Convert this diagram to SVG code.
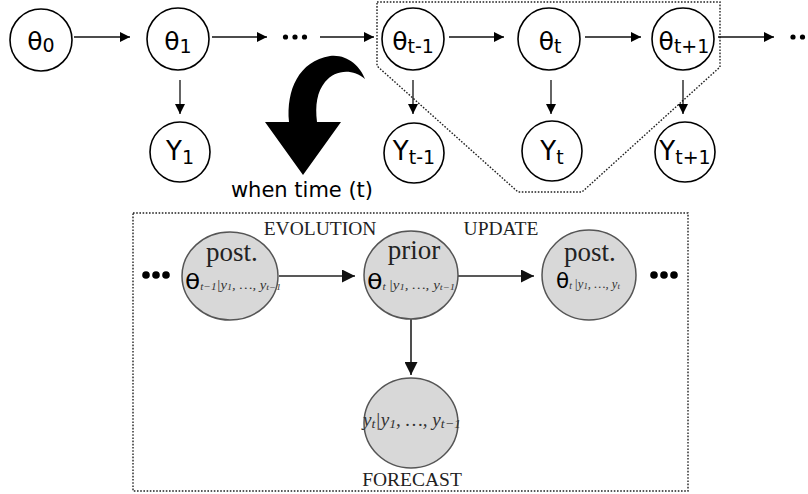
<svg xmlns="http://www.w3.org/2000/svg" width="808" height="494" viewBox="0 0 808 494">
<defs>
<marker id="ah" viewBox="0 0 10 10" refX="10" refY="5" markerWidth="10" markerHeight="10" markerUnits="userSpaceOnUse" orient="auto"><path d="M0,0 L10,5 L0,10 Z" fill="#000"/></marker>
<marker id="ah2" viewBox="0 0 12 12" refX="12" refY="6" markerWidth="13" markerHeight="13" markerUnits="userSpaceOnUse" orient="auto"><path d="M0,0 L12,6 L0,12 Z" fill="#111"/></marker>
</defs>
<style>
.n{fill:#fff;stroke:#000;stroke-width:1.6}
.g{fill:#d8d8d8;stroke:#555;stroke-width:1.5}
.s{font-family:"DejaVu Sans",sans-serif;fill:#000}
.r{font-family:"Liberation Serif",serif;fill:#222}
.i{font-family:"Liberation Serif",serif;font-style:italic;fill:#333}
.c{stroke:#111;stroke-width:1.3;fill:none}
.c2{stroke:#222;stroke-width:1.6;fill:none}
.dot{fill:none;stroke:#222;stroke-width:1.4;stroke-dasharray:1.6,1.6}
</style>
<rect width="808" height="494" fill="#fff"/>

<polygon class="dot" points="377,2 720,2 720,67 582,192 518,192 377,66"/>
<rect class="dot" x="133" y="213" width="555" height="278"/>

<g id="connectors">
<line class="c" x1="74" y1="37" x2="130" y2="37" marker-end="url(#ah)"/>
<line class="c" x1="212" y1="37" x2="267" y2="37" marker-end="url(#ah)"/>
<line class="c" x1="320" y1="37" x2="374" y2="37" marker-end="url(#ah)"/>
<line class="c" x1="449" y1="37" x2="504" y2="37" marker-end="url(#ah)"/>
<line class="c" x1="585" y1="37" x2="641" y2="37" marker-end="url(#ah)"/>
<line class="c" x1="718" y1="37" x2="774" y2="37" marker-end="url(#ah)"/>
<line class="c" x1="180" y1="80" x2="180" y2="114" marker-end="url(#ah)"/>
<line class="c" x1="413" y1="80" x2="413" y2="114" marker-end="url(#ah)"/>
<line class="c" x1="551" y1="80" x2="551" y2="114" marker-end="url(#ah)"/>
<line class="c" x1="683" y1="80" x2="683" y2="114" marker-end="url(#ah)"/>
<line class="c2" x1="279" y1="276" x2="355" y2="276" marker-end="url(#ah2)"/>
<line class="c2" x1="458" y1="276" x2="534" y2="276" marker-end="url(#ah2)"/>
<line class="c2" x1="411" y1="319" x2="411" y2="375" marker-end="url(#ah2)"/>
</g>

<g id="dots-top">
<circle cx="285.5" cy="37" r="2.6"/><circle cx="295" cy="37" r="2.6"/><circle cx="304.5" cy="37" r="2.6"/>
<circle cx="793" cy="37" r="2.6"/><circle cx="802.5" cy="37" r="2.6"/><circle cx="812" cy="37" r="2.6"/>
</g>

<g id="theta0"><circle class="n" cx="41" cy="40" r="31"/><text class="s" x="41" y="50" font-size="25" text-anchor="middle">θ<tspan font-size="19" dy="2">0</tspan></text></g>
<g id="theta1"><circle class="n" cx="178" cy="39" r="31"/><text class="s" x="178" y="50" font-size="25" text-anchor="middle">θ<tspan font-size="19" dy="3">1</tspan></text></g>
<g id="theta-tm1"><circle class="n" cx="413" cy="39" r="31"/><text class="s" x="413" y="50" font-size="25" text-anchor="middle">θ<tspan font-size="19" dy="3">t-1</tspan></text></g>
<g id="theta-t"><circle class="n" cx="549" cy="39" r="31"/><text class="s" x="550" y="50" font-size="25" text-anchor="middle">θ<tspan font-size="19" dy="3">t</tspan></text></g>
<g id="theta-tp1"><circle class="n" cx="683" cy="39" r="31"/><text class="s" x="684" y="50" font-size="25" text-anchor="middle">θ<tspan font-size="19" dy="3">t+1</tspan></text></g>

<g id="Y1"><circle class="n" cx="180" cy="152" r="30"/><text class="s" x="180" y="160" font-size="26" text-anchor="middle">Y<tspan font-size="19" dy="4">1</tspan></text></g>
<g id="Y-tm1"><circle class="n" cx="414" cy="153" r="30"/><text class="s" x="414" y="160" font-size="26" text-anchor="middle">Y<tspan font-size="19" dy="4">t-1</tspan></text></g>
<g id="Y-t"><circle class="n" cx="552" cy="151" r="30"/><text class="s" x="552" y="160" font-size="26" text-anchor="middle">Y<tspan font-size="19" dy="4">t</tspan></text></g>
<g id="Y-tp1"><circle class="n" cx="685" cy="152" r="30"/><text class="s" x="685" y="160" font-size="26" text-anchor="middle">Y<tspan font-size="19" dy="4">t+1</tspan></text></g>

<g id="big-arrow">
<path d="M289,122 C286,90 299,61 330,56 C347,54 360,66 365,79 C352,68 335,70 325,82 C317,92 315,105 317,122 L341,122 L303,175 L265,122 Z" fill="#000"/>
<text class="s" x="302" y="197" font-size="21" text-anchor="middle" fill="#111">when time (t)</text>
</g>

<text class="r" x="320" y="235" font-size="19.5" text-anchor="middle">EVOLUTION</text>
<text class="r" x="501" y="235" font-size="19.5" text-anchor="middle">UPDATE</text>

<g id="dots-bottom">
<circle cx="146" cy="275" r="3.8"/><circle cx="156" cy="275" r="3.8"/><circle cx="166" cy="275" r="3.8"/>
<circle cx="654" cy="275" r="3.8"/><circle cx="664" cy="275" r="3.8"/><circle cx="674" cy="275" r="3.8"/>
</g>

<g id="post-prev">
<ellipse class="g" cx="230" cy="276" rx="48" ry="44"/>
<text class="r" x="232" y="261" font-size="27" text-anchor="middle">post.</text>
<text x="233" y="289" text-anchor="middle" textLength="96" lengthAdjust="spacingAndGlyphs"><tspan class="s" font-size="22">θ</tspan><tspan class="i" font-size="10" dy="1">t−1</tspan><tspan class="i" font-size="13" dy="-1">|y</tspan><tspan class="i" font-size="9" dy="1">1</tspan><tspan class="i" font-size="13" dy="-1">, …, y</tspan><tspan class="i" font-size="9" dy="1">t−1</tspan></text>
</g>

<g id="prior">
<ellipse class="g" cx="411" cy="275" rx="47" ry="44"/>
<text class="r" x="414" y="259" font-size="27" text-anchor="middle">prior</text>
<text x="411" y="289" text-anchor="middle" textLength="88" lengthAdjust="spacingAndGlyphs"><tspan class="s" font-size="22">θ</tspan><tspan class="i" font-size="10" dy="1">t </tspan><tspan class="i" font-size="13" dy="-1">|y</tspan><tspan class="i" font-size="9" dy="1">1</tspan><tspan class="i" font-size="13" dy="-1">, …, y</tspan><tspan class="i" font-size="9" dy="1">t−1</tspan></text>
</g>

<g id="post-next">
<ellipse class="g" cx="589" cy="275" rx="47" ry="45"/>
<text class="r" x="590" y="261" font-size="27" text-anchor="middle">post.</text>
<text x="588" y="288" text-anchor="middle" textLength="64" lengthAdjust="spacingAndGlyphs"><tspan class="s" font-size="22">θ</tspan><tspan class="i" font-size="10" dy="1">t </tspan><tspan class="i" font-size="13" dy="-1">|y</tspan><tspan class="i" font-size="9" dy="1">1</tspan><tspan class="i" font-size="13" dy="-1">, …, y</tspan><tspan class="i" font-size="9" dy="1">t</tspan></text>
</g>

<g id="forecast">
<ellipse class="g" cx="411" cy="423" rx="47" ry="45"/>
<text x="412" y="426" text-anchor="middle" textLength="98" lengthAdjust="spacingAndGlyphs"><tspan class="i" font-size="18">y</tspan><tspan class="i" font-size="13" dy="2">t</tspan><tspan class="i" font-size="18" dy="-2">|y</tspan><tspan class="i" font-size="13" dy="2">1</tspan><tspan class="i" font-size="18" dy="-2">, …, y</tspan><tspan class="i" font-size="13" dy="2">t−1</tspan></text>
<text class="r" x="412" y="486" font-size="19.5" text-anchor="middle">FORECAST</text>
</g>
</svg>
